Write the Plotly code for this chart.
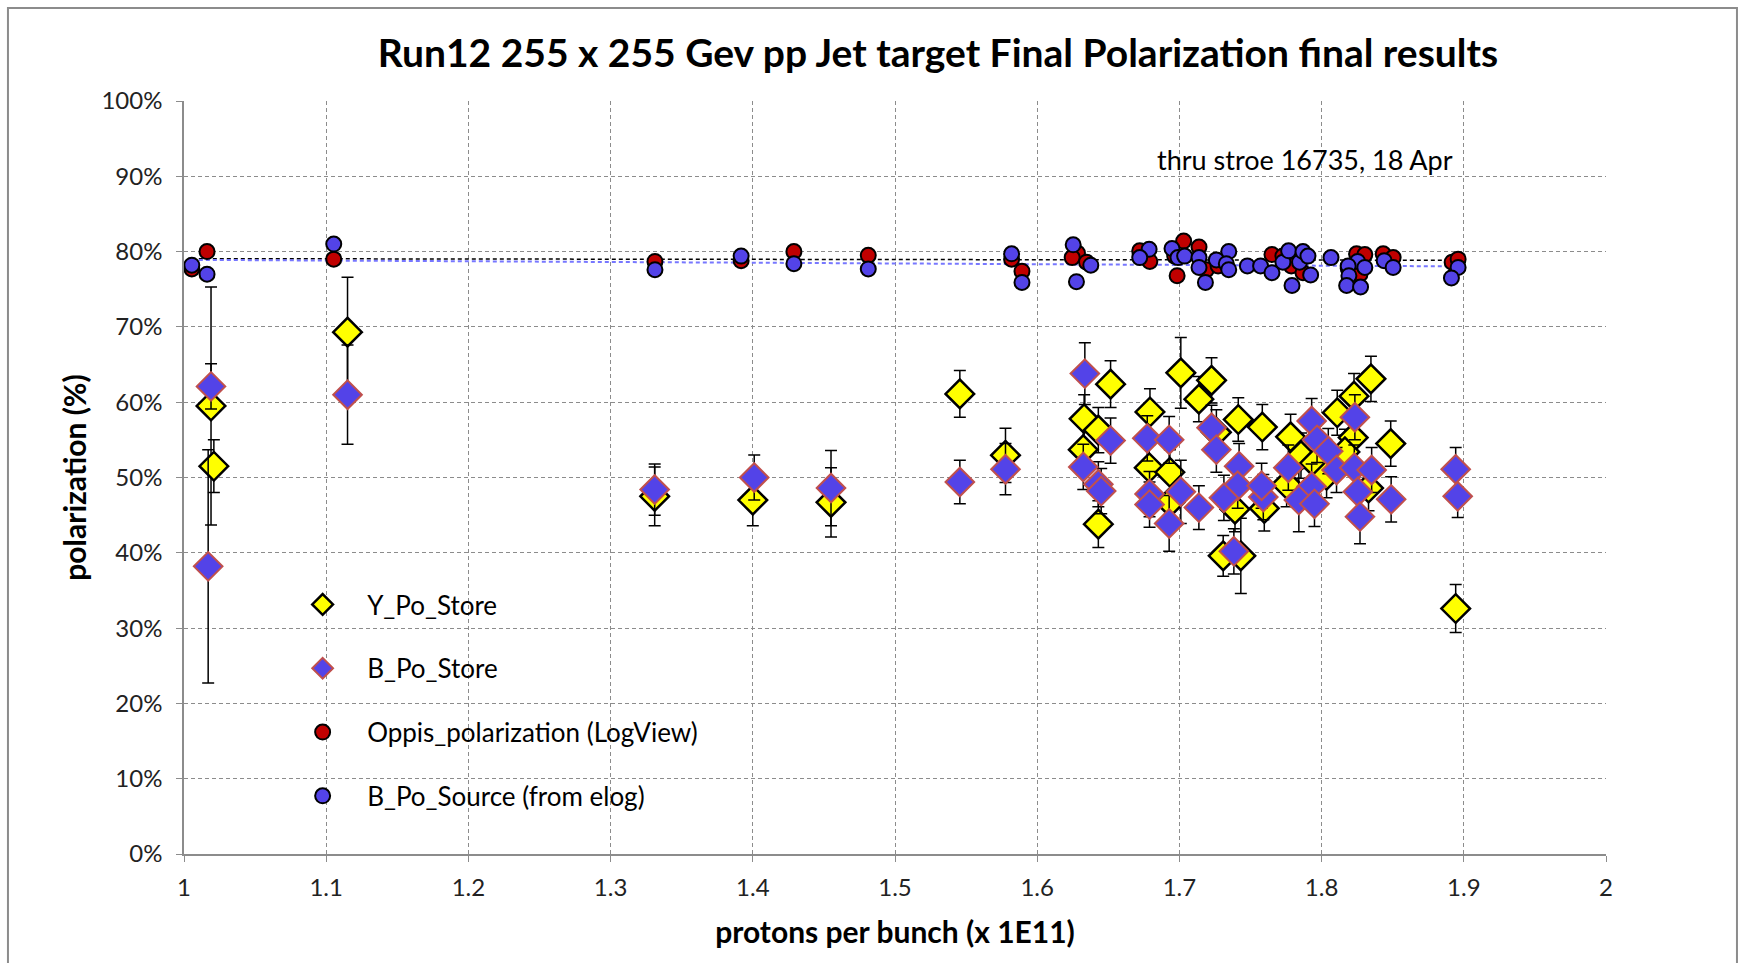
import numpy as np
import plotly.graph_objects as go

# ---------------- data ----------------
y_store_x = [1.019, 1.021, 1.115, 1.331, 1.400, 1.455, 1.5456, 1.5777, 1.633, 1.643,
             1.6516, 1.6324, 1.643, 1.6793, 1.6788, 1.6933, 1.6934, 1.701, 1.7137, 1.7226,
             1.7414, 1.7391, 1.7308, 1.7432, 1.7583, 1.7597, 1.7782, 1.7754, 1.7855, 1.795,
             1.8035, 1.811, 1.8228, 1.8347, 1.8222, 1.8164, 1.8486, 1.8943, 1.726, 1.833]
y_store_y = [59.5, 51.5, 69.3, 47.5, 47.0, 46.7, 61.1, 52.95, 57.8, 56.3,
             62.4, 53.7, 43.8, 58.7, 51.3, 50.7, 46.7, 63.9, 60.4, 62.9,
             57.7, 45.8, 39.6, 39.6, 56.7, 45.9, 55.4, 49.1, 52.9, 51.9,
             50.3, 58.6, 60.8, 63.1, 55.3, 53.4, 54.5, 32.6, 56.0, 48.6]
y_store_err = [15.8, 3.5, 7.3, 3.9, 3.4, 4.6, 3.1, 3.6, 3.2, 3.0,
               3.1, 3.0, 3.1, 3.1, 3.0, 3.0, 3.0, 4.7, 3.0, 3.0,
               2.9, 3.0, 2.7, 5.0, 3.0, 3.0, 3.0, 3.0, 3.0, 3.0,
               3.0, 3.0, 3.0, 3.0, 3.0, 3.0, 3.0, 3.2, 3.0, 3.0]

b_store_x = [1.019, 1.017, 1.115, 1.331, 1.401, 1.455, 1.5456, 1.5777, 1.6335, 1.6516,
             1.6324, 1.643, 1.645, 1.6774, 1.6928, 1.679, 1.679, 1.6928, 1.701, 1.7226,
             1.726, 1.7137, 1.742, 1.741, 1.7383, 1.7313, 1.759, 1.7578, 1.7766, 1.793,
             1.7968, 1.8047, 1.793, 1.784, 1.795, 1.8234, 1.8105, 1.823, 1.8352, 1.8255,
             1.827, 1.8489, 1.8943, 1.8957]
b_store_y = [62.1, 38.2, 61.0, 48.4, 50.0, 48.6, 49.4, 51.1, 63.8, 54.9,
             51.4, 49.1, 48.2, 55.2, 55.0, 47.8, 46.4, 43.9, 48.1, 56.6,
             53.7, 46.0, 51.5, 48.9, 40.2, 47.3, 47.4, 48.9, 51.3, 57.5,
             55.0, 53.5, 48.8, 47.0, 46.5, 58.0, 51.0, 51.3, 51.0, 48.1,
             44.8, 47.1, 51.1, 47.5]
b_store_err = [3.0, 15.5, 6.6, 3.4, 3.0, 5.0, 2.9, 3.4, 4.1, 3.0,
               3.0, 3.0, 3.0, 3.0, 3.1, 3.0, 3.0, 3.7, 4.2, 3.0,
               3.0, 2.9, 3.0, 3.0, 3.0, 3.0, 3.0, 3.0, 3.0, 3.0,
               3.0, 3.0, 3.0, 4.2, 3.0, 3.0, 3.0, 3.0, 3.0, 3.0,
               3.6, 3.0, 2.9, 2.8]

oppis_x = [1.0055, 1.0162, 1.1053, 1.3312, 1.3918, 1.4289, 1.4812, 1.582, 1.5893, 1.6283,
           1.6246, 1.6347, 1.6721, 1.6792, 1.703, 1.6967, 1.6984, 1.7138, 1.719, 1.7272,
           1.7651, 1.7787, 1.7869, 1.7728, 1.8187, 1.8246, 1.8304, 1.827, 1.8433, 1.8503,
           1.8918, 1.896]
oppis_y = [77.7, 80.0, 79.0, 78.7, 78.8, 80.0, 79.5, 79.0, 77.4, 79.8,
           79.2, 78.6, 80.1, 78.7, 81.4, 79.4, 76.8, 80.6, 77.6, 78.1,
           79.6, 78.1, 77.2, 79.4, 77.8, 79.7, 79.6, 77.0, 79.7, 79.2,
           78.6, 79.0]

src_x = [1.0055, 1.0162, 1.1053, 1.3312, 1.3918, 1.4289, 1.4812, 1.582, 1.5893, 1.6253,
         1.6377, 1.6276, 1.6787, 1.6721, 1.6948, 1.699, 1.7037, 1.7138, 1.7138, 1.7183,
         1.7347, 1.726, 1.733, 1.7347, 1.7478, 1.7571, 1.7651, 1.7728, 1.7768, 1.7792,
         1.7845, 1.7869, 1.7904, 1.7923, 1.8066, 1.8253, 1.8187, 1.8304, 1.8192, 1.8176,
         1.8274, 1.844, 1.8503, 1.896, 1.8913]
src_y = [78.2, 77.0, 81.0, 77.6, 79.4, 78.4, 77.7, 79.7, 75.9, 80.9,
         78.2, 76.0, 80.3, 79.2, 80.4, 79.2, 79.4, 79.2, 77.9, 75.9,
         80.0, 78.9, 78.4, 77.6, 78.1, 78.1, 77.2, 78.6, 80.1, 75.5,
         78.6, 80.0, 79.4, 76.9, 79.2, 78.7, 78.1, 77.9, 76.8, 75.5,
         75.3, 78.8, 77.9, 77.9, 76.5]

x_ticks = [1, 1.1, 1.2, 1.3, 1.4, 1.5, 1.6, 1.7, 1.8, 1.9, 2]
x_tick_text = ["1", "1.1", "1.2", "1.3", "1.4", "1.5", "1.6", "1.7", "1.8", "1.9", "2"]
y_ticks = [0, 10, 20, 30, 40, 50, 60, 70, 80, 90, 100]
y_tick_text = [f"{v}%" for v in y_ticks]

# linear trendlines (as in the spreadsheet)
def trend(xs, ys):
    k, b = np.polyfit(xs, ys, 1)
    xx = np.array([min(xs), max(xs)])
    return xx, k * xx + b

FONT = "Lato"
fig = go.Figure()

fig.add_trace(go.Scatter(
    x=y_store_x, y=y_store_y, mode="markers", name="Y_Po_Store",
    legendgroup="g1",
    error_y=dict(type="data", array=y_store_err, color="black", thickness=1.5, width=6),
    marker=dict(symbol="diamond", size=22, color="#FFFF00",
                line=dict(color="black", width=2.5))))

fig.add_trace(go.Scatter(
    x=b_store_x, y=b_store_y, mode="markers", name="B_Po_Store",
    legendgroup="g2",
    error_y=dict(type="data", array=b_store_err, color="black", thickness=1.5, width=6),
    marker=dict(symbol="diamond", size=22, color="#5343E8",
                line=dict(color="#C0504D", width=2))))

tx, ty = trend(oppis_x, oppis_y)
fig.add_trace(go.Scatter(x=tx, y=ty, mode="lines", showlegend=False,
                         line=dict(color="black", width=1.5, dash="4px,3px"), hoverinfo="skip"))
sx, sy = trend(src_x, src_y)
fig.add_trace(go.Scatter(x=sx, y=sy, mode="lines", showlegend=False,
                         line=dict(color="#7777FF", width=2, dash="4px,3px"), hoverinfo="skip"))

fig.add_trace(go.Scatter(
    x=oppis_x, y=oppis_y, mode="markers", name="Oppis_polarization (LogView)",
    legendgroup="g3",
    marker=dict(symbol="circle", size=15, color="#C00000",
                line=dict(color="black", width=2))))

fig.add_trace(go.Scatter(
    x=src_x, y=src_y, mode="markers", name="B_Po_Source (from elog)",
    legendgroup="g4",
    marker=dict(symbol="circle", size=15, color="#5343E8",
                line=dict(color="black", width=2))))

grid = dict(showgrid=True, gridcolor="#8C8C8C", gridwidth=1, griddash="4px,3px",
            zeroline=False, showline=True, linecolor="#8C8C8C", linewidth=1.5,
            ticks="outside", ticklen=6, tickcolor="#8C8C8C",
            tickfont=dict(family=FONT, size=24, color="#222222"))

fig.update_layout(
    width=1745, height=963,
    paper_bgcolor="white", plot_bgcolor="white",
    margin=dict(l=184, r=139, t=101, b=109),
    title=dict(text="<b>Run12 255 x 255 Gev pp Jet target Final Polarization final results</b>",
               x=0.5375, xanchor="center", y=0.945, yanchor="middle",
               font=dict(family=FONT, size=39, color="black")),
    xaxis=dict(range=[1, 2], tickvals=x_ticks, ticktext=x_tick_text, ticklabelstandoff=5,
               title=dict(text="<b>protons per bunch (x 1E11)</b>",
                          font=dict(family=FONT, size=30, color="black"), standoff=22),
               **grid),
    yaxis=dict(range=[0, 100], tickvals=y_ticks, ticktext=y_tick_text, ticklabelstandoff=9,
               title=dict(text="<b>polarization (%)</b>",
                          font=dict(family=FONT, size=30, color="black"), standoff=6),
               **grid),
    legend=dict(x=0.0662, y=0.3625, xanchor="left", yanchor="top",
                font=dict(family=FONT, size=26, color="black"),
                bgcolor="rgba(0,0,0,0)", traceorder="grouped", tracegroupgap=27,
                itemwidth=79),
    showlegend=True,
    annotations=[dict(text="thru stroe 16735, 18 Apr", x=1.894, y=92.2, xref="x", yref="y",
                      xanchor="right", yanchor="middle", showarrow=False,
                      font=dict(family=FONT, size=27, color="black"))],
    shapes=[dict(type="rect", xref="paper", yref="paper",
                 x0=-0.1238, x1=1.0921, y0=-0.17, y1=1.1235,
                 line=dict(color="#8C8C8C", width=2), fillcolor="rgba(0,0,0,0)")],
)

fig.write_html("out.html", config={"displayModeBar": False},
               post_script="document.body.style.margin='0';")
